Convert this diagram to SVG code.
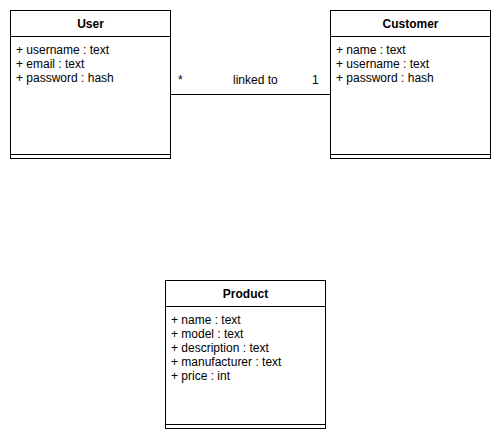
<svg xmlns="http://www.w3.org/2000/svg" width="501" height="439" viewBox="0 0 501 439">
<style>
.box{fill:#fff;stroke:#000;stroke-width:1}
.ln{stroke:#000;stroke-width:1;fill:none}
text{font-family:"Liberation Sans",Arial,sans-serif;font-size:12px;fill:#000}
.t{font-weight:bold;text-anchor:middle}
</style>
<rect width="501" height="439" fill="#fff"/>
<g id="connectors">
<path class="ln" d="M170.5 94.5H330.5"/>
<text x="178" y="84">*</text>
<text x="233" y="84">linked to</text>
<text x="312" y="84">1</text>
</g>
<g id="user">
<rect class="box" x="10.5" y="10.5" width="160" height="148"/>
<path class="ln" d="M10.5 36.5H170.5M10.5 154.5H170.5"/>
<text class="t" x="90.5" y="28">User</text>
<text x="16" y="54">+ username : text</text>
<text x="16" y="68">+ email : text</text>
<text x="16" y="82">+ password : hash</text>
</g>
<g id="customer">
<rect class="box" x="330.5" y="10.5" width="160" height="148"/>
<path class="ln" d="M330.5 36.5H490.5M330.5 154.5H490.5"/>
<text class="t" x="410.5" y="28">Customer</text>
<text x="336" y="54">+ name : text</text>
<text x="336" y="68">+ username : text</text>
<text x="336" y="82">+ password : hash</text>
</g>
<g id="product">
<rect class="box" x="165.5" y="280.5" width="160" height="148"/>
<path class="ln" d="M165.5 306.5H325.5M165.5 424.5H325.5"/>
<text class="t" x="245.5" y="298">Product</text>
<text x="171" y="324">+ name : text</text>
<text x="171" y="338">+ model : text</text>
<text x="171" y="352">+ description : text</text>
<text x="171" y="366">+ manufacturer : text</text>
<text x="171" y="380">+ price : int</text>
</g>
</svg>
